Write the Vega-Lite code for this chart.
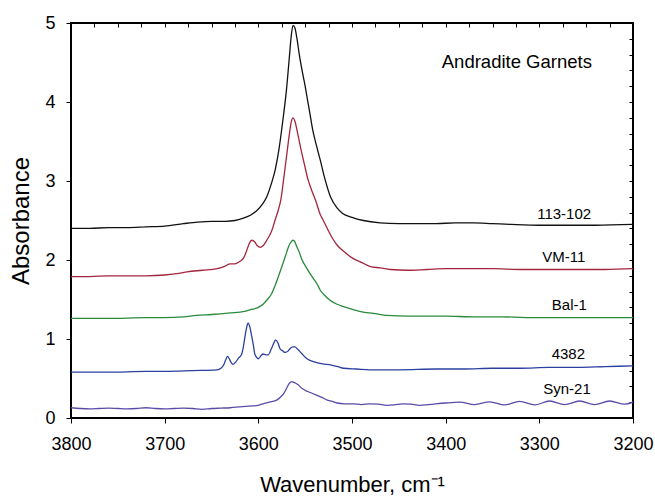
{
  "$schema": "https://vega.github.io/schema/vega-lite/v6.json",
  "width": 562,
  "height": 395,
  "autosize": {"type": "none"},
  "padding": {"left": 71, "top": 23, "right": 22, "bottom": 79},
  "config": {
    "view": {"stroke": "#000000", "strokeWidth": 2},
    "axis": {"grid": false, "labelColor": "#000000", "labelFont": "Liberation Sans", "labelFlush": false, "labelOverlap": false}
  },
  "resolve": {"axis": {"x": "independent", "y": "independent"}},
  "layer": [
    {
      "data": {"values": [
        {"sample":"113-102","wn":3800,"abs":2.40},{"sample":"113-102","wn":3780,"abs":2.40},{"sample":"113-102","wn":3760,"abs":2.41},{"sample":"113-102","wn":3740,"abs":2.41},{"sample":"113-102","wn":3720,"abs":2.42},{"sample":"113-102","wn":3700,"abs":2.43},{"sample":"113-102","wn":3680,"abs":2.46},{"sample":"113-102","wn":3665,"abs":2.48},{"sample":"113-102","wn":3650,"abs":2.49},{"sample":"113-102","wn":3635,"abs":2.49},{"sample":"113-102","wn":3625,"abs":2.50},{"sample":"113-102","wn":3616,"abs":2.53},{"sample":"113-102","wn":3608,"abs":2.57},{"sample":"113-102","wn":3602,"abs":2.62},{"sample":"113-102","wn":3596,"abs":2.70},{"sample":"113-102","wn":3591,"abs":2.80},{"sample":"113-102","wn":3586,"abs":2.97},{"sample":"113-102","wn":3582,"abs":3.14},{"sample":"113-102","wn":3578,"abs":3.40},{"sample":"113-102","wn":3574,"abs":3.75},{"sample":"113-102","wn":3570,"abs":4.15},{"sample":"113-102","wn":3567,"abs":4.55},{"sample":"113-102","wn":3565,"abs":4.82},{"sample":"113-102","wn":3563,"abs":4.97},{"sample":"113-102","wn":3561,"abs":4.94},{"sample":"113-102","wn":3559,"abs":4.82},{"sample":"113-102","wn":3556,"abs":4.58},{"sample":"113-102","wn":3553,"abs":4.38},{"sample":"113-102","wn":3550,"abs":4.20},{"sample":"113-102","wn":3548,"abs":4.06},{"sample":"113-102","wn":3545,"abs":3.86},{"sample":"113-102","wn":3542,"abs":3.65},{"sample":"113-102","wn":3538,"abs":3.45},{"sample":"113-102","wn":3534,"abs":3.27},{"sample":"113-102","wn":3529,"abs":3.03},{"sample":"113-102","wn":3523,"abs":2.80},{"sample":"113-102","wn":3516,"abs":2.66},{"sample":"113-102","wn":3510,"abs":2.59},{"sample":"113-102","wn":3500,"abs":2.54},{"sample":"113-102","wn":3488,"abs":2.50},{"sample":"113-102","wn":3470,"abs":2.47},{"sample":"113-102","wn":3450,"abs":2.46},{"sample":"113-102","wn":3430,"abs":2.46},{"sample":"113-102","wn":3410,"abs":2.46},{"sample":"113-102","wn":3390,"abs":2.47},{"sample":"113-102","wn":3370,"abs":2.47},{"sample":"113-102","wn":3350,"abs":2.46},{"sample":"113-102","wn":3330,"abs":2.45},{"sample":"113-102","wn":3300,"abs":2.44},{"sample":"113-102","wn":3270,"abs":2.44},{"sample":"113-102","wn":3240,"abs":2.44},{"sample":"113-102","wn":3200,"abs":2.45},

        {"sample":"VM-11","wn":3800,"abs":1.79},{"sample":"VM-11","wn":3780,"abs":1.79},{"sample":"VM-11","wn":3760,"abs":1.80},{"sample":"VM-11","wn":3740,"abs":1.80},{"sample":"VM-11","wn":3720,"abs":1.80},{"sample":"VM-11","wn":3700,"abs":1.81},{"sample":"VM-11","wn":3685,"abs":1.83},{"sample":"VM-11","wn":3676,"abs":1.85},{"sample":"VM-11","wn":3660,"abs":1.87},{"sample":"VM-11","wn":3644,"abs":1.89},{"sample":"VM-11","wn":3636,"abs":1.92},{"sample":"VM-11","wn":3630,"abs":1.95},{"sample":"VM-11","wn":3625,"abs":1.95},{"sample":"VM-11","wn":3620,"abs":1.98},{"sample":"VM-11","wn":3616,"abs":2.02},{"sample":"VM-11","wn":3613,"abs":2.10},{"sample":"VM-11","wn":3610,"abs":2.20},{"sample":"VM-11","wn":3607,"abs":2.25},{"sample":"VM-11","wn":3604,"abs":2.23},{"sample":"VM-11","wn":3601,"abs":2.18},{"sample":"VM-11","wn":3598,"abs":2.16},{"sample":"VM-11","wn":3595,"abs":2.18},{"sample":"VM-11","wn":3591,"abs":2.25},{"sample":"VM-11","wn":3586,"abs":2.36},{"sample":"VM-11","wn":3582,"abs":2.51},{"sample":"VM-11","wn":3579,"abs":2.62},{"sample":"VM-11","wn":3576,"abs":2.76},{"sample":"VM-11","wn":3573,"abs":3.02},{"sample":"VM-11","wn":3570,"abs":3.30},{"sample":"VM-11","wn":3567,"abs":3.58},{"sample":"VM-11","wn":3565,"abs":3.74},{"sample":"VM-11","wn":3563,"abs":3.80},{"sample":"VM-11","wn":3561,"abs":3.76},{"sample":"VM-11","wn":3558,"abs":3.60},{"sample":"VM-11","wn":3555,"abs":3.43},{"sample":"VM-11","wn":3551,"abs":3.22},{"sample":"VM-11","wn":3547,"abs":3.02},{"sample":"VM-11","wn":3543,"abs":2.88},{"sample":"VM-11","wn":3539,"abs":2.76},{"sample":"VM-11","wn":3534,"abs":2.58},{"sample":"VM-11","wn":3531,"abs":2.51},{"sample":"VM-11","wn":3523,"abs":2.32},{"sample":"VM-11","wn":3516,"abs":2.19},{"sample":"VM-11","wn":3508,"abs":2.10},{"sample":"VM-11","wn":3499,"abs":2.02},{"sample":"VM-11","wn":3490,"abs":1.97},{"sample":"VM-11","wn":3481,"abs":1.92},{"sample":"VM-11","wn":3470,"abs":1.90},{"sample":"VM-11","wn":3459,"abs":1.88},{"sample":"VM-11","wn":3440,"abs":1.87},{"sample":"VM-11","wn":3420,"abs":1.88},{"sample":"VM-11","wn":3400,"abs":1.89},{"sample":"VM-11","wn":3380,"abs":1.89},{"sample":"VM-11","wn":3350,"abs":1.89},{"sample":"VM-11","wn":3320,"abs":1.88},{"sample":"VM-11","wn":3290,"abs":1.88},{"sample":"VM-11","wn":3260,"abs":1.88},{"sample":"VM-11","wn":3230,"abs":1.88},{"sample":"VM-11","wn":3200,"abs":1.89},

        {"sample":"Bal-1","wn":3800,"abs":1.26},{"sample":"Bal-1","wn":3760,"abs":1.26},{"sample":"Bal-1","wn":3720,"abs":1.27},{"sample":"Bal-1","wn":3700,"abs":1.27},{"sample":"Bal-1","wn":3680,"abs":1.28},{"sample":"Bal-1","wn":3666,"abs":1.30},{"sample":"Bal-1","wn":3650,"abs":1.31},{"sample":"Bal-1","wn":3630,"abs":1.33},{"sample":"Bal-1","wn":3615,"abs":1.35},{"sample":"Bal-1","wn":3609,"abs":1.37},{"sample":"Bal-1","wn":3600,"abs":1.40},{"sample":"Bal-1","wn":3595,"abs":1.44},{"sample":"Bal-1","wn":3591,"abs":1.49},{"sample":"Bal-1","wn":3586,"abs":1.57},{"sample":"Bal-1","wn":3582,"abs":1.68},{"sample":"Bal-1","wn":3578,"abs":1.81},{"sample":"Bal-1","wn":3573,"abs":1.98},{"sample":"Bal-1","wn":3570,"abs":2.09},{"sample":"Bal-1","wn":3567,"abs":2.19},{"sample":"Bal-1","wn":3565,"abs":2.23},{"sample":"Bal-1","wn":3563,"abs":2.25},{"sample":"Bal-1","wn":3561,"abs":2.23},{"sample":"Bal-1","wn":3559,"abs":2.17},{"sample":"Bal-1","wn":3556,"abs":2.09},{"sample":"Bal-1","wn":3554,"abs":2.02},{"sample":"Bal-1","wn":3551,"abs":1.95},{"sample":"Bal-1","wn":3548,"abs":1.89},{"sample":"Bal-1","wn":3545,"abs":1.83},{"sample":"Bal-1","wn":3541,"abs":1.76},{"sample":"Bal-1","wn":3537,"abs":1.69},{"sample":"Bal-1","wn":3534,"abs":1.62},{"sample":"Bal-1","wn":3529,"abs":1.55},{"sample":"Bal-1","wn":3523.5,"abs":1.49},{"sample":"Bal-1","wn":3516,"abs":1.44},{"sample":"Bal-1","wn":3509,"abs":1.41},{"sample":"Bal-1","wn":3498,"abs":1.37},{"sample":"Bal-1","wn":3488,"abs":1.34},{"sample":"Bal-1","wn":3475,"abs":1.32},{"sample":"Bal-1","wn":3463,"abs":1.30},{"sample":"Bal-1","wn":3440,"abs":1.29},{"sample":"Bal-1","wn":3420,"abs":1.29},{"sample":"Bal-1","wn":3400,"abs":1.29},{"sample":"Bal-1","wn":3370,"abs":1.28},{"sample":"Bal-1","wn":3340,"abs":1.28},{"sample":"Bal-1","wn":3300,"abs":1.27},{"sample":"Bal-1","wn":3260,"abs":1.27},{"sample":"Bal-1","wn":3230,"abs":1.27},{"sample":"Bal-1","wn":3200,"abs":1.27},

        {"sample":"4382","wn":3800,"abs":0.58},{"sample":"4382","wn":3760,"abs":0.58},{"sample":"4382","wn":3720,"abs":0.59},{"sample":"4382","wn":3700,"abs":0.59},{"sample":"4382","wn":3670,"abs":0.60},{"sample":"4382","wn":3644,"abs":0.61},{"sample":"4382","wn":3640,"abs":0.63},{"sample":"4382","wn":3637,"abs":0.67},{"sample":"4382","wn":3635,"abs":0.73},{"sample":"4382","wn":3633,"abs":0.78},{"sample":"4382","wn":3631,"abs":0.75},{"sample":"4382","wn":3629,"abs":0.70},{"sample":"4382","wn":3627,"abs":0.68},{"sample":"4382","wn":3624,"abs":0.71},{"sample":"4382","wn":3621,"abs":0.76},{"sample":"4382","wn":3618,"abs":0.80},{"sample":"4382","wn":3616,"abs":0.90},{"sample":"4382","wn":3614,"abs":1.05},{"sample":"4382","wn":3612,"abs":1.17},{"sample":"4382","wn":3611,"abs":1.20},{"sample":"4382","wn":3609,"abs":1.15},{"sample":"4382","wn":3607,"abs":1.03},{"sample":"4382","wn":3605,"abs":0.90},{"sample":"4382","wn":3604,"abs":0.82},{"sample":"4382","wn":3602,"abs":0.77},{"sample":"4382","wn":3600,"abs":0.75},{"sample":"4382","wn":3597,"abs":0.79},{"sample":"4382","wn":3595,"abs":0.81},{"sample":"4382","wn":3592,"abs":0.80},{"sample":"4382","wn":3589.5,"abs":0.80},{"sample":"4382","wn":3586,"abs":0.88},{"sample":"4382","wn":3583,"abs":0.96},{"sample":"4382","wn":3581.5,"abs":0.99},{"sample":"4382","wn":3579,"abs":0.95},{"sample":"4382","wn":3577,"abs":0.88},{"sample":"4382","wn":3574,"abs":0.85},{"sample":"4382","wn":3571.5,"abs":0.83},{"sample":"4382","wn":3568,"abs":0.85},{"sample":"4382","wn":3566,"abs":0.88},{"sample":"4382","wn":3563,"abs":0.90},{"sample":"4382","wn":3561,"abs":0.90},{"sample":"4382","wn":3558,"abs":0.87},{"sample":"4382","wn":3554,"abs":0.82},{"sample":"4382","wn":3550,"abs":0.77},{"sample":"4382","wn":3545,"abs":0.73},{"sample":"4382","wn":3540,"abs":0.71},{"sample":"4382","wn":3534,"abs":0.69},{"sample":"4382","wn":3522,"abs":0.67},{"sample":"4382","wn":3515,"abs":0.65},{"sample":"4382","wn":3509,"abs":0.63},{"sample":"4382","wn":3495,"abs":0.62},{"sample":"4382","wn":3481,"abs":0.61},{"sample":"4382","wn":3450,"abs":0.61},{"sample":"4382","wn":3410,"abs":0.62},{"sample":"4382","wn":3380,"abs":0.62},{"sample":"4382","wn":3350,"abs":0.63},{"sample":"4382","wn":3320,"abs":0.63},{"sample":"4382","wn":3290,"abs":0.64},{"sample":"4382","wn":3260,"abs":0.64},{"sample":"4382","wn":3230,"abs":0.65},{"sample":"4382","wn":3200,"abs":0.66},

        {"sample":"Syn-21","wn":3800,"abs":0.13},{"sample":"Syn-21","wn":3790,"abs":0.12},{"sample":"Syn-21","wn":3780,"abs":0.115},{"sample":"Syn-21","wn":3770,"abs":0.12},{"sample":"Syn-21","wn":3760,"abs":0.125},{"sample":"Syn-21","wn":3750,"abs":0.12},{"sample":"Syn-21","wn":3740,"abs":0.115},{"sample":"Syn-21","wn":3730,"abs":0.12},{"sample":"Syn-21","wn":3720,"abs":0.13},{"sample":"Syn-21","wn":3710,"abs":0.12},{"sample":"Syn-21","wn":3700,"abs":0.115},{"sample":"Syn-21","wn":3690,"abs":0.12},{"sample":"Syn-21","wn":3680,"abs":0.125},{"sample":"Syn-21","wn":3670,"abs":0.12},{"sample":"Syn-21","wn":3660,"abs":0.11},{"sample":"Syn-21","wn":3650,"abs":0.12},{"sample":"Syn-21","wn":3640,"abs":0.125},{"sample":"Syn-21","wn":3630,"abs":0.13},{"sample":"Syn-21","wn":3620,"abs":0.14},{"sample":"Syn-21","wn":3610,"abs":0.15},{"sample":"Syn-21","wn":3600,"abs":0.16},{"sample":"Syn-21","wn":3595,"abs":0.18},{"sample":"Syn-21","wn":3588,"abs":0.20},{"sample":"Syn-21","wn":3580,"abs":0.23},{"sample":"Syn-21","wn":3576,"abs":0.27},{"sample":"Syn-21","wn":3573,"abs":0.31},{"sample":"Syn-21","wn":3570,"abs":0.37},{"sample":"Syn-21","wn":3568,"abs":0.42},{"sample":"Syn-21","wn":3566,"abs":0.45},{"sample":"Syn-21","wn":3564,"abs":0.46},{"sample":"Syn-21","wn":3562,"abs":0.45},{"sample":"Syn-21","wn":3560,"abs":0.44},{"sample":"Syn-21","wn":3557.5,"abs":0.42},{"sample":"Syn-21","wn":3554,"abs":0.38},{"sample":"Syn-21","wn":3550,"abs":0.35},{"sample":"Syn-21","wn":3544,"abs":0.32},{"sample":"Syn-21","wn":3538,"abs":0.29},{"sample":"Syn-21","wn":3532,"abs":0.26},{"sample":"Syn-21","wn":3527,"abs":0.23},{"sample":"Syn-21","wn":3521,"abs":0.21},{"sample":"Syn-21","wn":3516,"abs":0.19},{"sample":"Syn-21","wn":3508,"abs":0.18},{"sample":"Syn-21","wn":3499,"abs":0.18},{"sample":"Syn-21","wn":3490,"abs":0.17},{"sample":"Syn-21","wn":3481,"abs":0.18},{"sample":"Syn-21","wn":3472,"abs":0.175},{"sample":"Syn-21","wn":3463,"abs":0.16},{"sample":"Syn-21","wn":3455,"abs":0.165},{"sample":"Syn-21","wn":3446,"abs":0.18},{"sample":"Syn-21","wn":3437,"abs":0.175},{"sample":"Syn-21","wn":3428,"abs":0.16},{"sample":"Syn-21","wn":3418,"abs":0.17},{"sample":"Syn-21","wn":3400,"abs":0.19},{"sample":"Syn-21","wn":3385,"abs":0.20},{"sample":"Syn-21","wn":3369,"abs":0.17},{"sample":"Syn-21","wn":3353,"abs":0.205},{"sample":"Syn-21","wn":3337,"abs":0.165},{"sample":"Syn-21","wn":3321,"abs":0.21},{"sample":"Syn-21","wn":3305,"abs":0.165},{"sample":"Syn-21","wn":3289,"abs":0.215},{"sample":"Syn-21","wn":3273,"abs":0.17},{"sample":"Syn-21","wn":3257,"abs":0.215},{"sample":"Syn-21","wn":3241,"abs":0.17},{"sample":"Syn-21","wn":3225,"abs":0.215},{"sample":"Syn-21","wn":3209,"abs":0.175},{"sample":"Syn-21","wn":3200,"abs":0.20}
      ]},
      "mark": {"type": "line", "interpolate": "monotone", "strokeWidth": 1.3, "clip": true},
      "encoding": {
        "x": {"field": "wn", "type": "quantitative",
          "scale": {"domain": [3200, 3800], "reverse": true, "nice": false, "zero": false},
          "axis": {"orient": "bottom", "values": [3200,3300,3400,3500,3600,3700,3800],
            "format": "d", "tickSize": 5, "tickColor": "#000000", "domain": false,
            "labelFontSize": 18, "labelPadding": 12,
            "title": "Wavenumber, cm⁻¹", "titleFont": "Liberation Sans", "titleColor": "#000000", "titleFontWeight": "normal", "titleFontSize": 22, "titleX": 281, "titleY": 66, "titleBaseline": "middle", "titleAlign": "center"}},
        "y": {"field": "abs", "type": "quantitative",
          "scale": {"domain": [0, 5], "nice": false, "zero": false},
          "axis": {"orient": "left", "values": [0,1,2,3,4,5],
            "format": "d", "tickSize": 5, "tickColor": "#000000", "domain": false,
            "labelFontSize": 18, "labelPadding": 11,
            "title": "Absorbance", "titleFont": "Liberation Sans", "titleColor": "#000000", "titleFontWeight": "normal", "titleFontSize": 24, "titleAngle": -90, "titleX": -50, "titleY": 197.5, "titleBaseline": "middle", "titleAlign": "center"}},
        "color": {"field": "sample", "type": "nominal",
          "scale": {"domain": ["113-102", "VM-11", "Bal-1", "4382", "Syn-21"], "range": ["#111111", "#a3253f", "#2a8a3c", "#2b40a0", "#5e4aaa"]},
          "legend": null}
      }
    },
    {
      "data": {"values": [
        {"label": "Andradite Garnets", "kind": "title", "wn": 3324, "abs": 4.43},
        {"label": "113-102", "kind": "sample", "wn": 3273.5, "abs": 2.52},
        {"label": "VM-11", "kind": "sample", "wn": 3274, "abs": 1.98},
        {"label": "Bal-1", "kind": "sample", "wn": 3268, "abs": 1.37},
        {"label": "4382", "kind": "sample", "wn": 3269, "abs": 0.747},
        {"label": "Syn-21", "kind": "sample", "wn": 3270.5, "abs": 0.30}
      ]},
      "mark": {"type": "text", "align": "center", "baseline": "alphabetic", "font": "Liberation Sans", "color": "#000000"},
      "encoding": {
        "x": {"field": "wn", "type": "quantitative",
          "axis": {"orient": "top", "values": [3200,3225,3250,3275,3300,3325,3350,3375,3400,3425,3450,3475,3500,3525,3550,3575,3600,3625,3650,3675,3700,3725,3750,3775,3800],
            "labels": false, "title": null, "domain": false, "tickSize": -4, "tickColor": "#000000"}},
        "y": {"field": "abs", "type": "quantitative",
          "axis": {"orient": "right", "values": [0,0.2,0.4,0.6,0.8,1,1.2,1.4,1.6,1.8,2,2.2,2.4,2.6,2.8,3,3.2,3.4,3.6,3.8,4,4.2,4.4,4.6,4.8,5],
            "labels": false, "title": null, "domain": false, "tickSize": -4, "tickColor": "#000000"}},
        "text": {"field": "label", "type": "nominal"},
        "size": {"field": "kind", "type": "ordinal", "scale": {"domain": ["title", "sample"], "range": [18.5, 15]}, "legend": null}
      }
    }
  ]
}
